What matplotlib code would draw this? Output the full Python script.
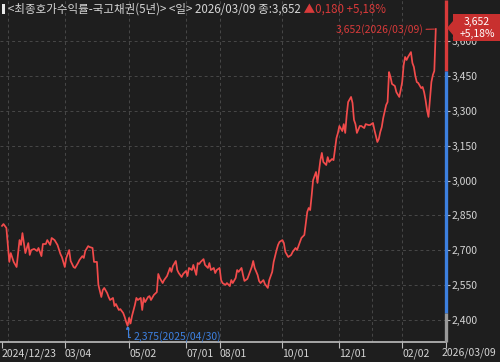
import matplotlib
matplotlib.use('Agg')
import matplotlib.pyplot as plt
from matplotlib.patches import Polygon, Rectangle
from matplotlib import rcParams

rcParams['font.family'] = ['Noto Sans CJK KR', 'DejaVu Sans']

# trading-day index and 5y KTB yield
DAY = [0, 1, 3, 4, 5, 6, 8, 10, 12, 13, 14, 16, 18, 19, 20, 22, 24, 25, 27, 28,
       30, 31, 33, 34, 36, 38, 40, 41, 43, 44, 46, 47, 49, 50, 52, 53, 55, 56, 57, 59,
       60, 62, 63, 65, 66, 68, 69, 70, 72, 73, 74, 76, 77, 78, 80, 81, 83, 84, 85, 86,
       87, 88, 89, 91, 92, 93, 95, 96, 97, 98, 100, 101, 102, 104, 106, 107, 108, 110, 111, 113,
       115, 116, 117, 119, 120, 121, 123, 124, 126, 127, 128, 130, 131, 133, 134, 135, 136, 138, 139, 141,
       142, 143, 145, 146, 147, 149, 150, 151, 153, 154, 156, 157, 158, 160, 161, 162, 164, 165, 166, 168,
       169, 171, 172, 173, 175, 176, 177, 179, 180, 182, 183, 185, 186, 188, 189, 190, 192, 193, 194, 196,
       198, 199, 201, 202, 204, 205, 207, 208, 209, 210, 211, 212, 213, 215, 216, 218, 219, 220, 222, 223,
       224, 226, 227, 229, 230, 231, 233, 234, 235, 236, 237, 239, 240, 241, 242, 243, 245, 246, 248, 249,
       251, 252, 254, 255, 257, 258, 259, 260, 261, 263, 264, 265, 266, 267, 269, 270, 272, 273, 274, 275,
       276, 277, 278, 280, 281, 282, 283, 284, 285, 287, 288, 289, 290, 291, 292, 293, 294, 295, 296, 297]
YLD = [2.805, 2.813, 2.796, 2.723, 2.650, 2.688, 2.650, 2.628, 2.744, 2.723, 2.774, 2.688, 2.731, 2.680, 2.701, 2.706, 2.697, 2.710, 2.675, 2.727,
       2.727, 2.744, 2.723, 2.753, 2.744, 2.723, 2.684, 2.671, 2.628, 2.667, 2.701, 2.654, 2.628, 2.624, 2.645, 2.658, 2.675, 2.667, 2.697, 2.718,
       2.714, 2.710, 2.650, 2.650, 2.551, 2.499, 2.529, 2.538, 2.516, 2.499, 2.486, 2.495, 2.460, 2.469, 2.443, 2.447, 2.430, 2.413, 2.392, 2.375,
       2.409, 2.385, 2.417, 2.465, 2.495, 2.486, 2.495, 2.443, 2.495, 2.477, 2.499, 2.503, 2.486, 2.508, 2.520, 2.598, 2.581, 2.559, 2.572, 2.589,
       2.624, 2.607, 2.632, 2.654, 2.615, 2.602, 2.585, 2.598, 2.611, 2.589, 2.624, 2.615, 2.637, 2.594, 2.645, 2.641, 2.650, 2.662, 2.637, 2.624,
       2.645, 2.615, 2.624, 2.602, 2.615, 2.624, 2.572, 2.559, 2.551, 2.559, 2.546, 2.572, 2.559, 2.581, 2.615, 2.607, 2.624, 2.594, 2.568, 2.577,
       2.594, 2.628, 2.654, 2.624, 2.594, 2.568, 2.559, 2.572, 2.555, 2.538, 2.572, 2.607, 2.650, 2.701, 2.723, 2.736, 2.744, 2.731, 2.693, 2.671,
       2.680, 2.693, 2.710, 2.701, 2.736, 2.753, 2.766, 2.817, 2.865, 2.882, 2.873, 2.934, 3.002, 3.037, 2.990, 3.088, 3.119, 3.080, 3.067, 3.101,
       3.080, 3.093, 3.088, 3.183, 3.205, 3.235, 3.213, 3.243, 3.205, 3.282, 3.338, 3.360, 3.334, 3.261, 3.243, 3.205, 3.235, 3.235, 3.226, 3.243,
       3.239, 3.239, 3.248, 3.218, 3.166, 3.179, 3.209, 3.230, 3.269, 3.325, 3.338, 3.467, 3.446, 3.416, 3.407, 3.381, 3.360, 3.390, 3.424, 3.497,
       3.532, 3.519, 3.532, 3.553, 3.506, 3.489, 3.450, 3.424, 3.420, 3.398, 3.403, 3.381, 3.347, 3.304, 3.274, 3.347, 3.424, 3.454, 3.472, 3.652]

XTICK_DAY = [0, 43, 87, 126, 149, 192, 231, 274, 304]
XTICK_LBL = ['2024/12/23', '03/04', '05/02', '07/01', '08/01', '10/01', '12/01', '02/02', '2026/03/09']
GRID_DAY = [4, 43, 87, 126, 149, 192, 231, 253, 274]
YTICKS = [2.40, 2.55, 2.70, 2.85, 3.00, 3.15, 3.30, 3.45, 3.60]

PREV_CLOSE = 3.472
MIN_DAY, MIN_VAL = 86, 2.375
TITLE = '<최종호가수익률-국고채권(5년)> <일> 2026/03/09 종:3,652'
CHANGE = '▲0,180 +5,18%'

BG = '#1e1e1e'
LINE = '#f24b4b'
RED = '#d83a3a'
BLUE = '#3d80e0'
GRID = '#484848'
TXT = '#d4d4d4'
AXC = '#bdbdbd'

W, H = 500, 362


def fx(px):
    return px / W


def fy(py):
    return 1 - py / H


fig = plt.figure(figsize=(5, 3.62), dpi=100, facecolor=BG)
ax = fig.add_axes([0, fy(342), fx(446), 342 / H], facecolor=BG)
ax.set_xlim(-1.37, 304)
ax.set_ylim(2.3053, 3.7771)

for g in GRID_DAY:
    ax.axvline(g, color=GRID, lw=0.7, ls=(0, (3, 3)), zorder=1)
for v in YTICKS:
    ax.axhline(v, color=GRID, lw=0.7, ls=(0, (3, 3)), zorder=1)

ax.plot(DAY, YLD, color=LINE, lw=1.25, zorder=3)

for s in ['top', 'left', 'right']:
    ax.spines[s].set_visible(False)
ax.spines['bottom'].set_color(AXC)
ax.spines['bottom'].set_linewidth(1.2)

# range bar on the price axis
ax.vlines(304, PREV_CLOSE, 3.7771, color=RED, lw=2.4, clip_on=False, zorder=5)
ax.vlines(304, 2.430, PREV_CLOSE, color=BLUE, lw=2.4, clip_on=False, zorder=5)
ax.vlines(304, 2.3053, 2.430, color='#9a9a9a', lw=2.4, clip_on=False, zorder=5)

ax.yaxis.tick_right()
ax.set_yticks(YTICKS, [f'{v:.3f}'.replace('.', ',') for v in YTICKS])
ax.tick_params(axis='y', length=3, width=0.8, color=AXC, pad=1, labelsize=7.5, labelcolor=TXT)
# last date label sits at the axis end, written separately so it can shift left
ax.set_xticks(XTICK_DAY, XTICK_LBL[:-1] + [''])
for lbl in ax.get_xticklabels():
    lbl.set_ha('left')
ax.tick_params(axis='x', length=4, width=0.8, color=AXC, pad=1, labelsize=7.5, labelcolor=TXT)
ax.annotate(XTICK_LBL[-1], xy=(XTICK_DAY[-1], 0), xycoords=('data', 'axes fraction'),
            xytext=(-3, -3.9), textcoords='offset points', ha='left', va='top',
            fontsize=7.5, color=TXT, annotation_clip=False)

# max / min notes
ax.annotate('3,652(2026/03/09)', xy=(DAY[-1], YLD[-1]), xytext=(-9, -1), textcoords='offset points',
            ha='right', va='center', fontsize=7.5, color=RED,
            arrowprops=dict(arrowstyle='-', color=RED, lw=0.8, shrinkA=0, shrinkB=1))
ax.annotate('2,375(2025/04/30)', xy=(MIN_DAY, MIN_VAL), xytext=(4, -8), textcoords='offset points',
            ha='left', va='center', fontsize=7.5, color=BLUE,
            arrowprops=dict(arrowstyle='-|>', color=BLUE, lw=0.8, shrinkA=0, shrinkB=0,
                            mutation_scale=4, connectionstyle='angle,angleA=0,angleB=90,rad=0'))

# header
fig.patches.append(Rectangle((fx(2), fy(14)), fx(3), 10 / H, transform=fig.transFigure,
                             facecolor='#e8e8e8', edgecolor='none'))
t1 = fig.text(fx(8), fy(9), TITLE, ha='left', va='center', fontsize=8.3, color=TXT)
ax.annotate(' ' + CHANGE, xy=(1, 0.5), xycoords=t1, ha='left', va='center',
            fontsize=8.3, color=RED, annotation_clip=False)

# current value tag
tag = [(447, 28), (453, 21), (453, 14), (500, 14), (500, 41), (453, 41), (453, 35)]
fig.patches.append(Polygon([(fx(a), fy(b)) for a, b in tag], closed=True, transform=fig.transFigure,
                           facecolor='#c8302f', edgecolor='none', zorder=10))
fig.text(fx(477), fy(22), '3,652', ha='center', va='center', fontsize=7.5, color='white', zorder=11)
fig.text(fx(477), fy(34), '+5,18%', ha='center', va='center', fontsize=7.5, color='white', zorder=11)

fig.savefig('out.png', dpi=100, facecolor=BG)
